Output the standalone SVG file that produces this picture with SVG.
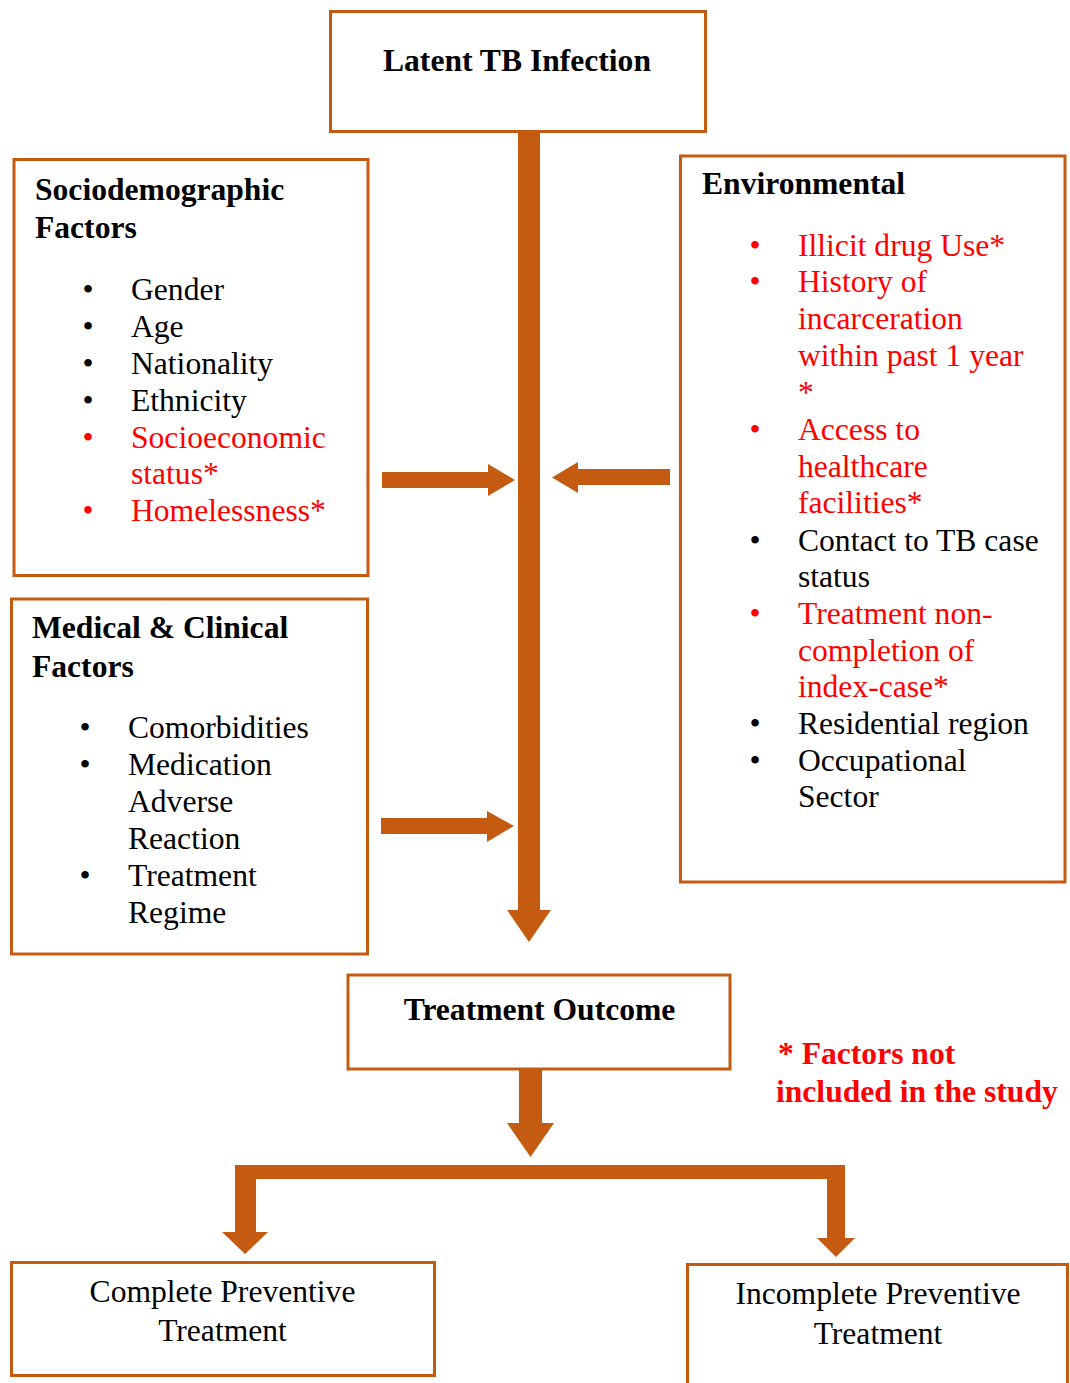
<svg xmlns="http://www.w3.org/2000/svg" width="1070" height="1383" viewBox="0 0 1070 1383">
<style>
.box{fill:#fff;stroke:#C55A11;stroke-width:3}
.arr{fill:#C55A11}
text{font-family:"Liberation Serif","Times New Roman",serif;font-size:31.6px;fill:#000}
.b{font-weight:bold}
.r{fill:#FF0000}
.c{text-anchor:middle}
</style>
<rect width="1070" height="1383" fill="#fff"/>
<g id="connectors">
<polygon class="arr" points="518,133 540,133 540,910 551,910 529,942 507,910 518,910"/>
<polygon class="arr" points="382,472 488,472 488,464 515,480 488,496 488,488 382,488"/>
<polygon class="arr" points="670,469 578,469 578,462 552,477.5 578,493 578,485 670,485"/>
<polygon class="arr" points="381,818 487,818 487,811 514,826 487,842 487,834 381,834"/>
<polygon class="arr" points="519,1070 542,1070 542,1123 554,1123 530.5,1157 507,1123 519,1123"/>
<polygon class="arr" points="235,1165 845,1165 845,1238 855,1238 836,1257 817,1238 827,1238 827,1179 256,1179 256,1232 268,1232 245,1254 222,1232 235,1232"/>
</g>
<g id="latent">
<rect class="box" x="330.5" y="11.5" width="375" height="120"/>
<text class="b c" x="517" y="71">Latent TB Infection</text>
</g>
<g id="socio">
<rect class="box" x="14" y="159.5" width="354" height="416"/>
<text class="b" x="35" y="200">Sociodemographic</text>
<text class="b" x="35" y="238">Factors</text>
<text class="c" x="88" y="300">•</text><text x="131" y="300">Gender</text>
<text class="c" x="88" y="337">•</text><text x="131" y="337">Age</text>
<text class="c" x="88" y="374">•</text><text x="131" y="374">Nationality</text>
<text class="c" x="88" y="411">•</text><text x="131" y="411">Ethnicity</text>
<text class="c r" x="88" y="448">•</text><text class="r" x="131" y="448">Socioeconomic</text>
<text class="r" x="131" y="484">status*</text>
<text class="c r" x="88" y="521">•</text><text class="r" x="131" y="521">Homelessness*</text>
</g>
<g id="medical">
<rect class="box" x="11.5" y="599" width="356" height="355"/>
<text class="b" x="32" y="638">Medical &amp; Clinical</text>
<text class="b" x="32" y="677">Factors</text>
<text class="c" x="85" y="738">•</text><text x="128" y="738">Comorbidities</text>
<text class="c" x="85" y="775">•</text><text x="128" y="775">Medication</text>
<text x="128" y="812">Adverse</text>
<text x="128" y="849">Reaction</text>
<text class="c" x="85" y="886">•</text><text x="128" y="886">Treatment</text>
<text x="128" y="923">Regime</text>
</g>
<g id="environmental">
<rect class="box" x="680.5" y="156" width="384.5" height="726"/>
<text class="b" x="702" y="194">Environmental</text>
<text class="c r" x="755" y="256">•</text><text class="r" x="798" y="256">Illicit drug Use*</text>
<text class="c r" x="755" y="292">•</text><text class="r" x="798" y="292">History of</text>
<text class="r" x="798" y="329">incarceration</text>
<text class="r" x="798" y="366">within past 1 year</text>
<text class="r" x="798" y="403">*</text>
<text class="c r" x="755" y="440">•</text><text class="r" x="798" y="440">Access to</text>
<text class="r" x="798" y="477">healthcare</text>
<text class="r" x="798" y="513">facilities*</text>
<text class="c" x="755" y="551">•</text><text x="798" y="551">Contact to TB case</text>
<text x="798" y="587">status</text>
<text class="c r" x="755" y="624">•</text><text class="r" x="798" y="624">Treatment non-</text>
<text class="r" x="798" y="661">completion of</text>
<text class="r" x="798" y="697">index-case*</text>
<text class="c" x="755" y="734">•</text><text x="798" y="734">Residential region</text>
<text class="c" x="755" y="771">•</text><text x="798" y="771">Occupational</text>
<text x="798" y="807">Sector</text>
</g>
<g id="outcome">
<rect class="box" x="348" y="975" width="382" height="94"/>
<text class="b c" x="539.5" y="1020">Treatment Outcome</text>
</g>
<g id="note">
<text class="b r" x="778" y="1064">* Factors not</text>
<text class="b r" x="776" y="1102">included in the study</text>
</g>
<g id="complete">
<rect class="box" x="11.5" y="1262.5" width="423" height="113"/>
<text class="c" x="222.5" y="1302">Complete Preventive</text>
<text class="c" x="222.5" y="1341">Treatment</text>
</g>
<g id="incomplete">
<rect class="box" x="687.5" y="1264.5" width="380" height="140"/>
<text class="c" x="878" y="1304">Incomplete Preventive</text>
<text class="c" x="878" y="1344">Treatment</text>
</g>
</svg>
